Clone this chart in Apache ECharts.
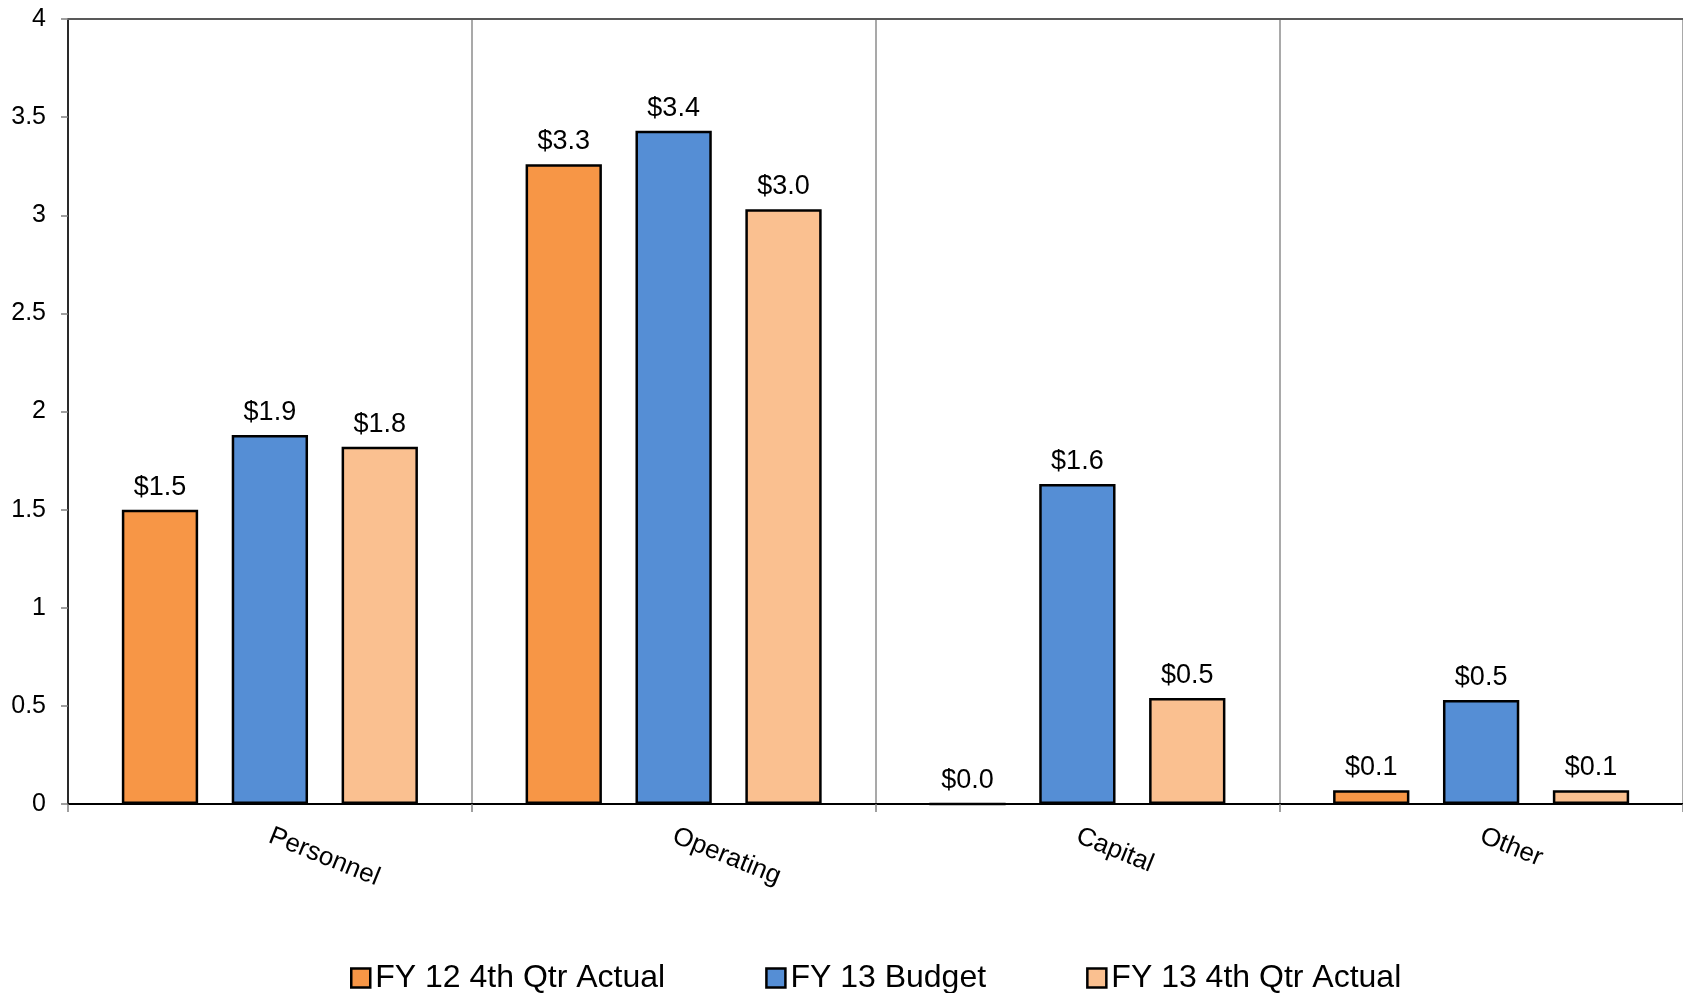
<!DOCTYPE html>
<html>
<head>
<meta charset="utf-8">
<script src="https://cdn.jsdelivr.net/npm/echarts@6/dist/echarts.min.js"></script>
<style>html,body{margin:0;padding:0;background:#fff;}#c{width:1683px;height:993px;}</style>
</head>
<body>
<div id="c"></div>
<script>
const categories = ['Personnel', 'Operating', 'Capital', 'Other'];
const seriesNames = ['FY 12 4th Qtr Actual', 'FY 13 Budget', 'FY 13 4th Qtr Actual'];
const fy12Actual = [1.50, 3.26, 0.00, 0.07];
const fy13Budget = [1.88, 3.43, 1.63, 0.53];
const fy13Actual = [1.82, 3.03, 0.54, 0.07];
const yTicks = [0, 0.5, 1, 1.5, 2, 2.5, 3, 3.5, 4];
const colors = ['#F79646', '#558ED5', '#FAC090'];

const FONT = '"Liberation Sans", Arial, sans-serif';
const chart = echarts.init(document.getElementById('c'));
function mk(name, data, color) {
  return {
    name: name, type: 'bar', data: data,
    barWidth: '18.9%', barGap: '44%',
    itemStyle: { color: color, borderColor: '#000', borderWidth: 2.5 },
    label: {
      show: true, position: 'top', distance: 9,
      fontFamily: FONT, fontSize: 27, color: '#000',
      formatter: p => '$' + p.value.toFixed(1)
    }
  };
}
chart.setOption({
  animation: false,
  textStyle: { fontFamily: FONT },
  grid: { left: 68, right: 0, top: 19, bottom: 189, containLabel: false },
  legend: {
    left: 345, top: 957,
    itemWidth: 19, itemHeight: 19, itemGap: 100,
    icon: 'rect',
    textStyle: { fontFamily: FONT, fontSize: 32, color: '#000' },
    data: seriesNames.map((n, i) => ({ name: n, itemStyle: { color: colors[i], borderColor: '#000', borderWidth: 2.5 } }))
  },
  xAxis: [{
    type: 'category', data: categories, position: 'bottom',
    axisLine: { show: true, lineStyle: { color: '#000', width: 2 } },
    axisTick: { show: true, length: 8, lineStyle: { color: '#808080', width: 1.5 } },
    splitLine: { show: true, lineStyle: { color: '#8c8c8c', width: 1.5 } },
    axisLabel: { rotate: -22, margin: 31, fontFamily: FONT, fontSize: 26, color: '#000' }
  }, {
    type: 'category', data: categories, position: 'top',
    axisLine: { show: true, lineStyle: { color: '#595959', width: 2 } },
    axisTick: { show: false }, axisLabel: { show: false }, splitLine: { show: false }
  }],
  yAxis: {
    type: 'value', min: yTicks[0], max: yTicks[yTicks.length - 1], interval: 0.5,
    axisLine: { show: true, lineStyle: { color: '#000', width: 1.5 } },
    axisTick: { show: true, length: 7, lineStyle: { color: '#808080', width: 1.5 } },
    splitLine: { show: false },
    axisLabel: { margin: 22, fontFamily: FONT, fontSize: 25, color: '#000',
      formatter: v => String(v) }
  },
  series: [mk(seriesNames[0], fy12Actual, colors[0]), mk(seriesNames[1], fy13Budget, colors[1]), mk(seriesNames[2], fy13Actual, colors[2])]
});
</script>
</body>
</html>
